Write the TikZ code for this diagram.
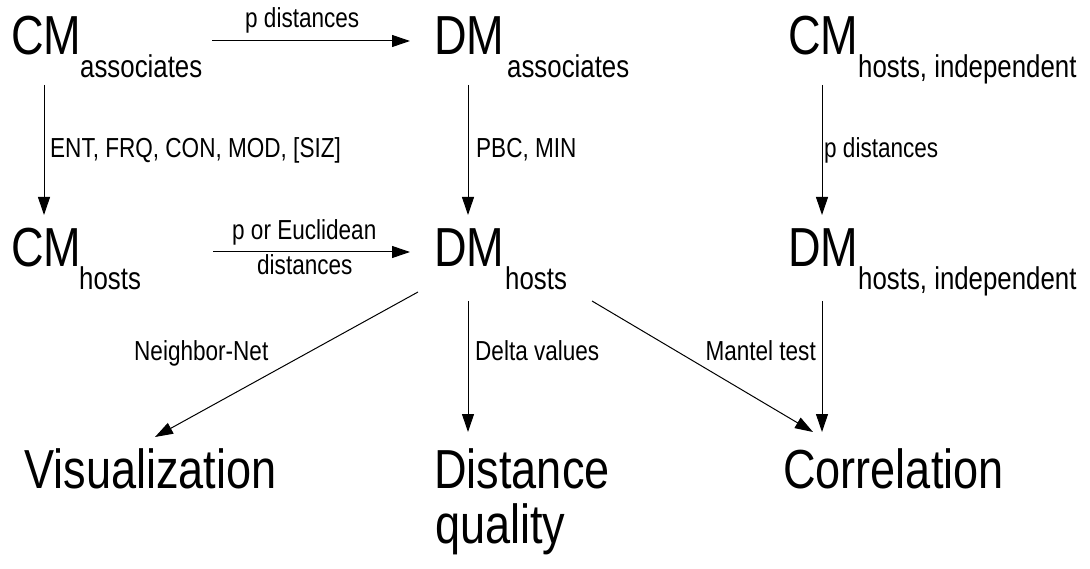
\documentclass[tikz,border=0pt]{standalone}
\usepackage{fontspec}
\setmainfont[FakeStretch=0.82]{Liberation Sans}
\usetikzlibrary{arrows.meta}
\tikzset{
  big/.style={anchor=base west,inner sep=0pt,font=\fontsize{55}{60}\selectfont},
  bigsub/.style={anchor=base west,inner sep=0pt,font=\fontsize{31.5}{36}\selectfont},
  lbl/.style={anchor=base west,inner sep=0pt,font=\fontsize{27.5}{32}\selectfont},
  conn/.style={line width=1pt,-{Triangle[length=18pt,width=12pt]}}
}
\begin{document}
\begin{tikzpicture}[x=1pt,y=-1pt]
\useasboundingbox (0,0) rectangle (1090,569);
% main texts
\node[big] (cma) at (11,55) {CM};
\node[bigsub] (cmas) at (80,78) {associates};
\node[big] (dma) at (434,55) {DM};
\node[bigsub] (dmas) at (507,78) {associates};
\node[big] (cmi) at (788,55) {CM};
\node[bigsub] (cmis) at (858,78) {hosts, independent};
\node[big] (cmh) at (11,267) {CM};
\node[bigsub] (cmhs) at (79,290) {hosts};
\node[big] (dmh) at (434,267) {DM};
\node[bigsub] (dmhs) at (505,290) {hosts};
\node[big] (dmi) at (788,267) {DM};
\node[bigsub] (dmis) at (858,290) {hosts, independent};
\node[big] (vis) at (24,488) {Visualization};
\node[big] (dist) at (434,488) {Distance};
\node[big] (qual) at (435,543) {quality};
\node[big] (corr) at (783,488) {Correlation};
% labels
\node[lbl] (l1) at (245,28) {p distances};
\node[lbl] (l2) at (50,158) {ENT, FRQ, CON, MOD, [SIZ]};
\node[lbl] (l3) at (476,158) {PBC, MIN};
\node[lbl] (l4) at (824,158) {p distances};
\node[lbl] (l5) at (232,240) {p or Euclidean};
\node[lbl] (l6) at (257,275) {distances};
\node[lbl] (l7) at (134,360) {Neighbor-Net};
\node[lbl] (l8) at (475,360) {Delta values};
\node[lbl,anchor=base east] (l9) at (816,360) {Mantel test};
% connector end points
\coordinate (a1s) at (212,41);  \coordinate (a1e) at (410,41);
\coordinate (a2s) at (44,85);   \coordinate (a2e) at (44,215);
\coordinate (a3s) at (468,85);  \coordinate (a3e) at (468,215);
\coordinate (a4s) at (822,85);  \coordinate (a4e) at (822,215);
\coordinate (a5s) at (213,252); \coordinate (a5e) at (410,252);
\coordinate (a6s) at (418,292); \coordinate (a6e) at (155,437);
\coordinate (a7s) at (468,301); \coordinate (a7e) at (468,432);
\coordinate (a8s) at (592,301); \coordinate (a8e) at (813,432);
\coordinate (a9s) at (822,301); \coordinate (a9e) at (822,432);
\draw[conn] (a1s) -- (a1e);
\draw[conn] (a2s) -- (a2e);
\draw[conn] (a3s) -- (a3e);
\draw[conn] (a4s) -- (a4e);
\draw[conn] (a5s) -- (a5e);
\draw[conn] (a6s) -- (a6e);
\draw[conn] (a7s) -- (a7e);
\draw[conn] (a8s) -- (a8e);
\draw[conn] (a9s) -- (a9e);
\end{tikzpicture}
\end{document}
